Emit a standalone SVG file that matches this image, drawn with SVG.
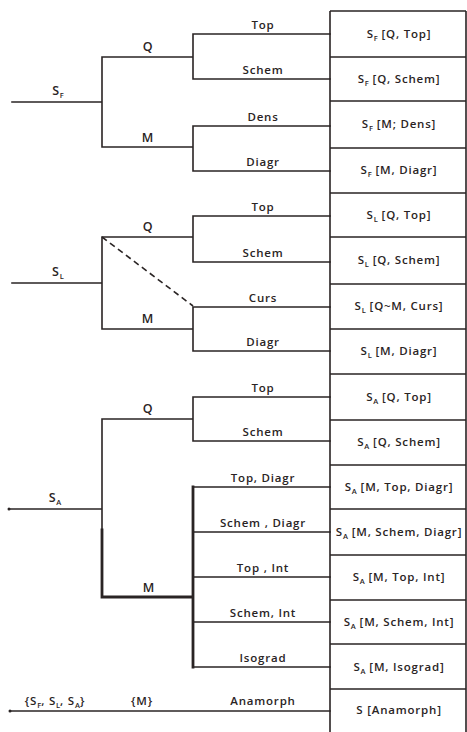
<svg xmlns="http://www.w3.org/2000/svg" width="467" height="732" viewBox="0 0 467 732">
<style>
text{font-family:"Open Sans","Liberation Sans",sans-serif;font-weight:600;font-size:11.5px;letter-spacing:0.8px;fill:#2a2424;text-anchor:middle}
.big{font-size:12.5px}
.sub{font-size:7.5px;letter-spacing:0}
.ln{stroke:#2a2424;stroke-width:1.6;fill:none;stroke-linecap:square}
.thick{stroke-width:2.8}
.dash{stroke-dasharray:6 4;stroke-linecap:butt}
.cell{stroke:#2a2424;stroke-width:1.6;fill:none}
</style>
<rect width="467" height="732" fill="#fff"/>
<g id="connectors">
<path class="ln" d="M12 102H102M102 57V147M102 57H193M102 147H193M193 34V79M193 34H330M193 79H330M193 126V171M193 126H330M193 171H330"/>
<path class="ln" d="M12 283H102M102 237V329M102 237H193M102 329H193M193 216V262M193 216H330M193 262H330M193 307V351M193 307H330M193 351H330"/>
<path class="ln dash" d="M102 237L193 306"/>
<path class="ln" d="M9 509H102M102 419V597M102 419H193M193 397V441M193 397H330M193 441H330M193 487H330M193 532H330M193 577H330M193 622H330M193 667H330"/>
<path class="ln thick" d="M102 530V597H193M193 487V667"/>
<circle cx="9" cy="509" r="1.5" fill="#2a2424"/>
<path class="ln" d="M10 711H330"/>
<circle cx="10" cy="711" r="1.5" fill="#2a2424"/>
</g>
<g id="result-table">
<path class="cell" d="M330 11V732M466 11V732M330 11H466M330 57H466M330 101H466M330 148H466M330 193H466M330 237H466M330 284H466M330 329H466M330 374H466M330 420H466M330 465H466M330 509H466M330 555H466M330 600H466M330 644H466M330 689H466"/>
</g>
<g id="root-SF"><text class="big" x="58" y="95">S<tspan class="sub" dy="3">F</tspan></text></g>
<g id="root-SL"><text class="big" x="58" y="276">S<tspan class="sub" dy="3">L</tspan></text></g>
<g id="root-SA"><text class="big" x="55" y="502">S<tspan class="sub" dy="3">A</tspan></text></g>
<g id="SF-Q"><text class="big" x="148" y="51">Q</text></g>
<g id="SF-M"><text class="big" x="148" y="142">M</text></g>
<g id="SL-Q"><text class="big" x="148" y="231">Q</text></g>
<g id="SL-M"><text class="big" x="148" y="323">M</text></g>
<g id="SA-Q"><text class="big" x="148" y="413">Q</text></g>
<g id="SA-M"><text class="big" x="149" y="592">M</text></g>
<g id="leaf-SF-Top"><text x="263" y="29">Top</text></g>
<g id="leaf-SF-Schem"><text x="263" y="74">Schem</text></g>
<g id="leaf-SF-Dens"><text x="263" y="121">Dens</text></g>
<g id="leaf-SF-Diagr"><text x="263" y="166">Diagr</text></g>
<g id="leaf-SL-Top"><text x="263" y="211">Top</text></g>
<g id="leaf-SL-Schem"><text x="263" y="257">Schem</text></g>
<g id="leaf-SL-Curs"><text x="263" y="302">Curs</text></g>
<g id="leaf-SL-Diagr"><text x="263" y="346">Diagr</text></g>
<g id="leaf-SA-Top"><text x="263" y="392">Top</text></g>
<g id="leaf-SA-Schem"><text x="263" y="436">Schem</text></g>
<g id="leaf-SA-TopDiagr"><text x="263" y="482">Top, Diagr</text></g>
<g id="leaf-SA-SchemDiagr"><text x="263" y="527">Schem , Diagr</text></g>
<g id="leaf-SA-TopInt"><text x="263" y="572">Top , Int</text></g>
<g id="leaf-SA-SchemInt"><text x="263" y="617">Schem, Int</text></g>
<g id="leaf-SA-Isograd"><text x="263" y="662">Isograd</text></g>
<g id="set-S"><text x="55" y="705">{S<tspan class="sub" dy="3">F</tspan><tspan dy="-3">, S</tspan><tspan class="sub" dy="3">L</tspan><tspan dy="-3">, S</tspan><tspan class="sub" dy="3">A</tspan><tspan dy="-3">}</tspan></text></g>
<g id="set-M"><text x="142" y="705">{M}</text></g>
<g id="leaf-Anamorph"><text x="263" y="705">Anamorph</text></g>
<g id="res-1"><text x="399" y="38">S<tspan class="sub" dy="3">F</tspan><tspan dy="-3"> [Q, Top]</tspan></text></g>
<g id="res-2"><text x="399" y="83">S<tspan class="sub" dy="3">F</tspan><tspan dy="-3"> [Q, Schem]</tspan></text></g>
<g id="res-3"><text x="399" y="128">S<tspan class="sub" dy="3">F</tspan><tspan dy="-3"> [M; Dens]</tspan></text></g>
<g id="res-4"><text x="399" y="174">S<tspan class="sub" dy="3">F</tspan><tspan dy="-3"> [M, Diagr]</tspan></text></g>
<g id="res-5"><text x="399" y="219">S<tspan class="sub" dy="3">L</tspan><tspan dy="-3"> [Q, Top]</tspan></text></g>
<g id="res-6"><text x="399" y="264">S<tspan class="sub" dy="3">L</tspan><tspan dy="-3"> [Q, Schem]</tspan></text></g>
<g id="res-7"><text x="399" y="310">S<tspan class="sub" dy="3">L</tspan><tspan dy="-3"> [Q~M, Curs]</tspan></text></g>
<g id="res-8"><text x="399" y="355">S<tspan class="sub" dy="3">L</tspan><tspan dy="-3"> [M, Diagr]</tspan></text></g>
<g id="res-9"><text x="399" y="401">S<tspan class="sub" dy="3">A</tspan><tspan dy="-3"> [Q, Top]</tspan></text></g>
<g id="res-10"><text x="399" y="446">S<tspan class="sub" dy="3">A</tspan><tspan dy="-3"> [Q, Schem]</tspan></text></g>
<g id="res-11"><text x="399" y="491">S<tspan class="sub" dy="3">A</tspan><tspan dy="-3"> [M, Top, Diagr]</tspan></text></g>
<g id="res-12"><text x="399" y="536">S<tspan class="sub" dy="3">A</tspan><tspan dy="-3"> [M, Schem, Diagr]</tspan></text></g>
<g id="res-13"><text x="399" y="581">S<tspan class="sub" dy="3">A</tspan><tspan dy="-3"> [M, Top, Int]</tspan></text></g>
<g id="res-14"><text x="399" y="626">S<tspan class="sub" dy="3">A</tspan><tspan dy="-3"> [M, Schem, Int]</tspan></text></g>
<g id="res-15"><text x="399" y="671">S<tspan class="sub" dy="3">A</tspan><tspan dy="-3"> [M, Isograd]</tspan></text></g>
<g id="res-16"><text x="399" y="714">S [Anamorph]</text></g>
</svg>
